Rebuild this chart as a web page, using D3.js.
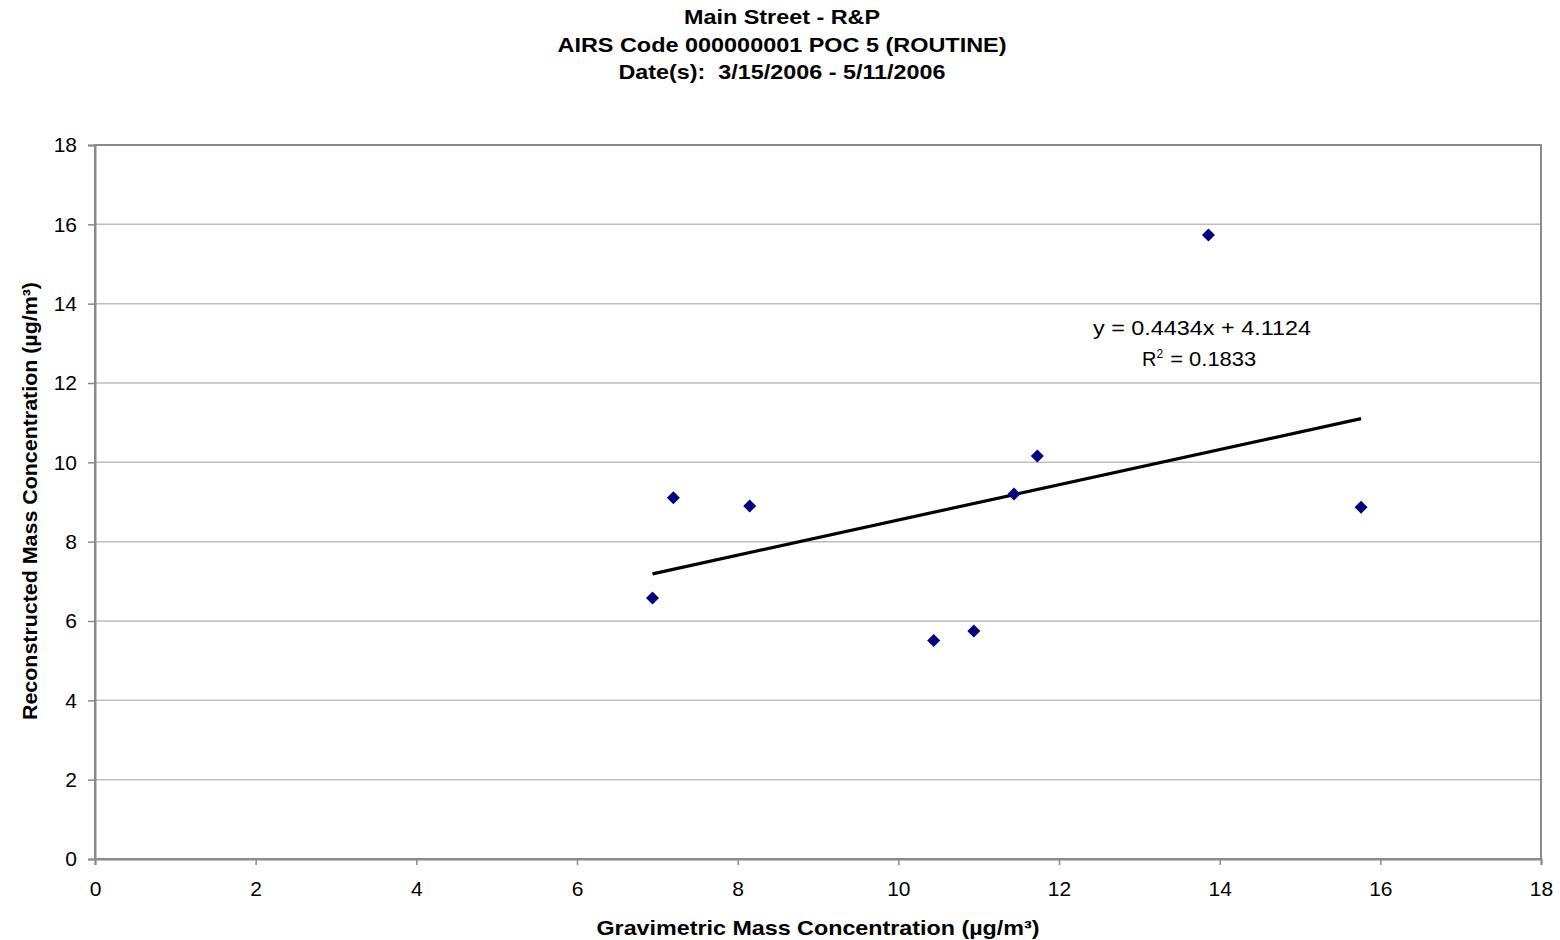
<!DOCTYPE html>
<html>
<head>
<meta charset="utf-8">
<script src="https://cdn.jsdelivr.net/npm/d3@7"></script>
<style>
  html, body { margin: 0; padding: 0; background: #fff; }
  svg { display: block; font-family: "Liberation Sans", Arial, sans-serif; }
  text { white-space: pre; }
</style>
</head>
<body>
<svg id="chart" width="1560" height="940"></svg>
<script>
// ---- data ----
const titleLines = ["Main Street - R&P", "AIRS Code 000000001 POC 5 (ROUTINE)", "Date(s):  3/15/2006 - 5/11/2006"];
const gravimetric = [6.94, 7.20, 8.15, 10.44, 10.94, 11.44, 11.73, 13.86, 15.76];
const reconstructed = [6.58, 9.11, 8.90, 5.51, 5.75, 9.20, 10.16, 15.73, 8.87];
const xTicks = [0, 2, 4, 6, 8, 10, 12, 14, 16, 18];
const yTicks = [0, 2, 4, 6, 8, 10, 12, 14, 16, 18];
const trendSlope = 0.4434;
const trendIntercept = 4.1124;
const rSquared = "0.1833";
const xLabel = "Gravimetric Mass Concentration (µg/m³)";
const yLabel = "Reconstructed Mass Concentration (µg/m³)";

// ---- layout ----
const svg = d3.select("#chart");
const pLeft = 95, pRight = 1541, pTop = 145, pBottom = 859;
const titleWidths = [196, 449, 327];

const x = d3.scaleLinear().domain([0, 18]).range([pLeft, pRight]);
const y = d3.scaleLinear().domain([0, 18]).range([pBottom, pTop]);

// titles
svg.append("g").selectAll("text").data(titleLines).join("text")
  .attr("x", 782).attr("y", (d, i) => 24 + i * 27.5)
  .attr("text-anchor", "middle")
  .attr("font-size", 20.5).attr("font-weight", "bold").attr("fill", "#000")
  .attr("textLength", (d, i) => titleWidths[i]).attr("lengthAdjust", "spacingAndGlyphs")
  .text(d => d);

// gridlines
svg.append("g").selectAll("line").data(yTicks.filter(t => t > 0 && t < 18)).join("line")
  .attr("x1", pLeft).attr("x2", pRight)
  .attr("y1", d => y(d)).attr("y2", d => y(d))
  .attr("stroke", "#bdbdbd").attr("stroke-width", 1.5);

// plot border
svg.append("rect")
  .attr("x", pLeft).attr("y", pTop)
  .attr("width", pRight - pLeft).attr("height", pBottom - pTop)
  .attr("fill", "none").attr("stroke", "#8a8a8a").attr("stroke-width", 2);

// axes
const xAxis = d3.axisBottom(x).tickValues(xTicks).tickSize(6).tickPadding(16).tickFormat(d3.format("d"));
const yAxis = d3.axisLeft(y).tickValues(yTicks).tickSize(7).tickPadding(11).tickFormat(d3.format("d"));

const gx = svg.append("g").attr("transform", `translate(0,${pBottom})`).call(xAxis);
const gy = svg.append("g").attr("transform", `translate(${pLeft},0)`).call(yAxis);
[gx, gy].forEach(g => {
  g.select(".domain").attr("stroke", "#8a8a8a").attr("stroke-width", 2);
  g.selectAll(".tick line").attr("stroke", "#8a8a8a").attr("stroke-width", 1.5);
  g.selectAll(".tick text").attr("font-size", 21).attr("fill", "#000")
    .attr("font-family", "'Liberation Sans', Arial, sans-serif");
});

// axis labels
svg.append("text")
  .attr("x", 818).attr("y", 935)
  .attr("text-anchor", "middle")
  .attr("font-size", 20.5).attr("font-weight", "bold")
  .attr("textLength", 443).attr("lengthAdjust", "spacingAndGlyphs")
  .text(xLabel);

svg.append("text")
  .attr("transform", `translate(37,501) rotate(-90)`)
  .attr("text-anchor", "middle")
  .attr("font-size", 21).attr("font-weight", "bold")
  .attr("textLength", 438).attr("lengthAdjust", "spacingAndGlyphs")
  .text(yLabel);

// trendline
const xMin = d3.min(gravimetric), xMax = d3.max(gravimetric);
svg.append("line")
  .attr("x1", x(xMin)).attr("y1", y(trendSlope * xMin + trendIntercept))
  .attr("x2", x(xMax)).attr("y2", y(trendSlope * xMax + trendIntercept))
  .attr("stroke", "#000").attr("stroke-width", 3.2);

// points
const pts = gravimetric.map((g, i) => ({ gx: g, ry: reconstructed[i] }));
const h = 6.5;
svg.append("g").selectAll("path").data(pts).join("path")
  .attr("d", d => {
    const cx = x(d.gx), cy = y(d.ry);
    return `M${cx},${cy - h}L${cx + h},${cy}L${cx},${cy + h}L${cx - h},${cy}Z`;
  })
  .attr("fill", "#000080");

// equation
svg.append("text").attr("x", 1202).attr("y", 335)
  .attr("text-anchor", "middle").attr("font-size", 20).attr("fill", "#000")
  .attr("textLength", 218).attr("lengthAdjust", "spacingAndGlyphs")
  .text(`y = ${trendSlope}x + ${trendIntercept}`);
const r2 = svg.append("text").attr("x", 1142).attr("y", 366).attr("text-anchor", "start")
  .attr("font-size", 20).attr("fill", "#000");
r2.append("tspan").text("R");
r2.append("tspan").attr("dy", -8).attr("font-size", 12).text("2");
r2.append("tspan").attr("dy", 8).attr("dx", 1).attr("textLength", 92).attr("lengthAdjust", "spacingAndGlyphs").text(` = ${rSquared}`);
</script>
</body>
</html>
